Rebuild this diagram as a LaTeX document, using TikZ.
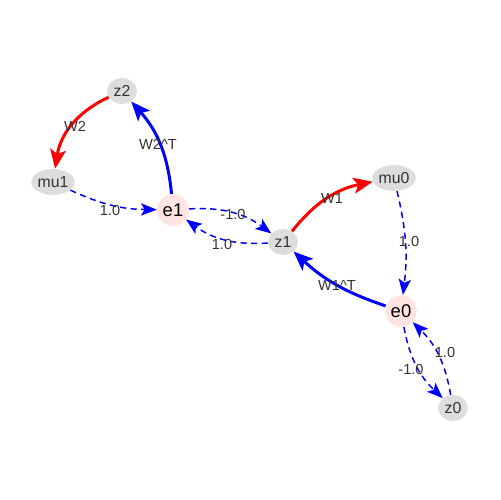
\documentclass[tikz,border=0pt]{standalone}
\usepackage{fontspec}
\setmainfont{Liberation Sans}
\usetikzlibrary{shapes.geometric,arrows.meta}
\definecolor{ngrey}{HTML}{DDDDDD}
\definecolor{npink}{HTML}{FFE4E1}
\definecolor{ltxt}{HTML}{333333}
\begin{document}
\begin{tikzpicture}[x=0.02cm,y=-0.02cm,
  zn/.style={ellipse,fill=ngrey,draw=none,inner sep=0pt,text=ltxt,font=\fontsize{9}{10}\selectfont},
  zsmall/.style={zn,minimum width=17pt,minimum height=14.7pt},
  mun/.style={zn,minimum width=24pt,minimum height=14.7pt},
  en/.style={circle,fill=npink,draw=none,inner sep=0pt,minimum size=18pt,text=black,font=\fontsize{10.5}{11}\selectfont},
  lbl/.style={font=\fontsize{8.3}{9}\selectfont,text=ltxt,inner sep=0pt},
  wred/.style={red,line width=1.7pt,-{Stealth[length=11pt,width=9pt,inset=2.5pt]}},
  wblue/.style={blue,line width=1.7pt,-{Stealth[length=11pt,width=9pt,inset=2.5pt]}},
  dblue/.style={blue,line width=0.85pt,dashed,dash pattern=on 3.5pt off 2.5pt,-{Stealth[length=9pt,width=7pt,inset=2pt]}}
]
\useasboundingbox (0,0) rectangle (500,500);
\node[zsmall] (z2) at (122,91) {z2};
\node[mun] (mu1) at (53,182) {mu1};
\node[en] (e1) at (173,210) {e1};
\node[zsmall] (z1) at (283,242) {z1};
\node[mun] (mu0) at (394,178) {mu0};
\node[en] (e0) at (401,311) {e0};
\node[zsmall] (z0) at (453,408) {z0};

\draw[wred] (z2) to[bend right=28] (mu1);
\node[lbl] (lw2) at (75,126) {W2};
\draw[wblue] (e1) to[bend right=18] (z2);
\node[lbl] (lw2t) at (158,144) {W2\^{}T};
\draw[dblue] (mu1) to[bend right=12] (e1);
\node[lbl] (l1) at (110,210) {1.0};
\draw[dblue] (e1) to[bend left=20] (z1);
\node[lbl] (l2) at (233,214) {-1.0};
\draw[dblue] (z1) to[bend left=20] (e1);
\node[lbl] (l3) at (222,244) {1.0};
\draw[wred] (z1) to[bend left=20] (mu0);
\node[lbl] (lw1) at (332,198) {W1};
\draw[wblue] (e0) to[bend left=12] (z1);
\node[lbl] (lw1t) at (337,285) {W1\^{}T};
\draw[dblue] (mu0) to[bend left=10] (e0);
\node[lbl] (l4) at (409,241) {1.0};
\draw[dblue] (e0) to[bend right=18] (z0);
\node[lbl] (l5) at (411,369) {-1.0};
\draw[dblue] (z0) to[bend right=18] (e0);
\node[lbl] (l6) at (445,352) {1.0};
\end{tikzpicture}
\end{document}
